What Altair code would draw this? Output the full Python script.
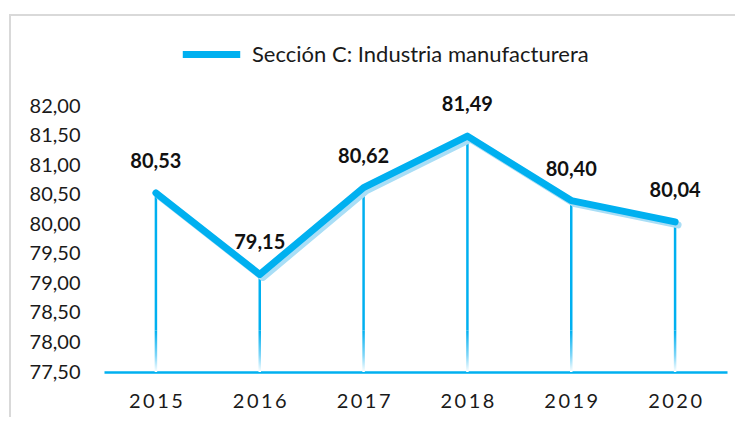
import altair as alt
import pandas as pd

years = ["2015", "2016", "2017", "2018", "2019", "2020"]
values = [80.53, 79.15, 80.62, 81.49, 80.40, 80.04]
series_name = "Sección C: Industria manufacturera"
y_min, y_max = 77.5, 82.0
y_ticks = [77.5, 78.0, 78.5, 79.0, 79.5, 80.0, 80.5, 81.0, 81.5, 82.0]
fade_start = 78.2

df = pd.DataFrame({"year": years, "v": values, "serie": [series_name] * len(years)})
df["base"] = y_min
df["fade"] = fade_start

BLUE = "#00B0F0"
SHADOW = "#A9DEF6"
FONT = "Lato"

W, H = 623, 266

x_enc = alt.X("year:N", title=None, sort=years,
              scale=alt.Scale(paddingInner=0, paddingOuter=0),
              axis=alt.Axis(labelAngle=0, ticks=False, domain=True, domainColor=BLUE,
                            domainWidth=2.5, labelFont=FONT, labelFontSize=20,
                            labelColor="#1a1a1a", labelPadding=19,
                            labelExpr="join(split(datum.label, ''), '\u2009')"))
y_scale = alt.Scale(domain=[y_min, y_max], nice=False, zero=False)
y_axis = alt.Axis(values=y_ticks, ticks=False, domain=False, grid=False,
                  labelFont=FONT, labelFontSize=20, labelColor="#1a1a1a",
                  labelPadding=24, labelOverlap=False,
                  labelExpr="replace(format(datum.value, '.2f'), '.', ',')")
y_enc = alt.Y("v:Q", title=None, scale=y_scale, axis=y_axis)

base = alt.Chart(df)

frame = alt.Chart(pd.DataFrame({"k": [0]})).mark_rect(
    fill="transparent", stroke="#D9D9D9", strokeWidth=2
).encode(x=alt.value(-94), x2=alt.value(W + 60), y=alt.value(-91), y2=alt.value(H + 80))

drop_solid = base.mark_bar(size=2.5, color=BLUE).encode(
    x=x_enc, y=y_enc, y2="fade:Q")
drop_fade = base.mark_bar(size=2.5, color=alt.Gradient(
    gradient="linear", x1=0, y1=0, x2=0, y2=1,
    stops=[alt.GradientStop(color=BLUE, offset=0),
           alt.GradientStop(color="#7FD6F8", offset=0.6),
           alt.GradientStop(color="#FFFFFF", offset=1)])).encode(
    x=x_enc, y=alt.Y("fade:Q", title=None, scale=y_scale, axis=y_axis), y2="base:Q")

shadow = base.mark_line(color=SHADOW, strokeWidth=7, strokeCap="round", strokeJoin="round").encode(
    x=x_enc, y=y_enc, xOffset=alt.value(W / 12 + 3), yOffset=alt.value(3))

line = base.mark_line(strokeWidth=7, strokeCap="round", strokeJoin="round").encode(
    x=x_enc, y=y_enc,
    color=alt.Color("serie:N", scale=alt.Scale(domain=[series_name], range=[BLUE]),
                    legend=alt.Legend(title=None, orient="none", legendX=75, legendY=-84,
                                      symbolType="stroke", symbolStrokeWidth=7,
                                      symbolSize=3300, labelFont=FONT, labelFontSize=22,
                                      labelColor="#1a1a1a", labelOffset=8, labelLimit=0)))

labels = base.transform_calculate(
    lab="replace(format(datum.v, '.2f'), '.', ',')"
).mark_text(dy=-31, font=FONT, fontSize=20, fontWeight="bold", color="#111111").encode(
    x=x_enc, y=y_enc, text="lab:N")

chart = alt.layer(frame, drop_solid, drop_fade, shadow, line, labels).properties(
    width=W, height=H,
    padding={"left": 96, "top": 98, "right": 8, "bottom": 45},
    autosize=alt.AutoSizeParams(type="none"),
    background="white",
).configure_view(stroke=None)

chart.save("out.html", embed_options={"renderer": "svg", "actions": False})
